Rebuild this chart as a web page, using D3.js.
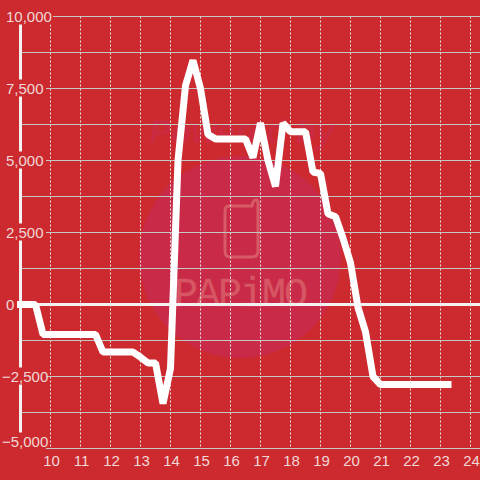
<!DOCTYPE html>
<html>
<head>
<meta charset="utf-8">
<script src="https://cdn.jsdelivr.net/npm/d3@7"></script>
<style>
html, body { margin: 0; padding: 0; background: #cc2a2e; }
svg { display: block; }
text { font-family: "Liberation Sans", Arial, sans-serif; }
</style>
</head>
<body>
<div id="chart"></div>
<script>
// quarter hours from 9:00 to 23:15
var hours = [9, 9.25, 9.5, 9.75, 10, 10.25, 10.5, 10.75, 11, 11.25, 11.5, 11.75,
	12, 12.25, 12.5, 12.75, 13, 13.25, 13.5, 13.75, 14, 14.25, 14.5, 14.75,
	15, 15.25, 15.5, 15.75, 16, 16.25, 16.5, 16.75, 17, 17.25, 17.5, 17.75,
	18, 18.25, 18.5, 18.75, 19, 19.25, 19.5, 19.75, 20, 20.25, 20.5, 20.75,
	21, 21.25, 21.5, 21.75, 22, 22.25, 22.5, 22.75, 23, 23.25];
var values = [0, 0, 0, -1040, -1040, -1040, -1040, -1040, -1040, -1040, -1040, -1650,
	-1650, -1650, -1650, -1650, -1830, -2030, -2030, -3440, -2220, 5000, 7600, 8480,
	7500, 5900, 5750, 5750, 5750, 5750, 5750, 5100, 6300, 5000, 4100, 6300,
	6000, 6000, 6000, 4600, 4550, 3150, 3050, 2300, 1450, -100, -950, -2500,
	-2780, -2780, -2780, -2780, -2780, -2780, -2780, -2780, -2780, -2780];
var xTicks = [10, 11, 12, 13, 14, 15, 16, 17, 18, 19, 20, 21, 22, 23, 24];
var yGrid = [10000, 8750, 7500, 6250, 5000, 3750, 2500, 1250, 0, -1250, -2500, -3750, -5000];
var yLabels = [10000, 7500, 5000, 2500, 0, -2500, -5000];

var w = 480, h = 480;
var x = d3.scaleLinear().domain([10, 24]).range([50.5, 470.5]);
var y = d3.scaleLinear().domain([10000, -5000]).range([16.5, 448.5]);

var svg = d3.select("#chart").append("svg")
.attr("width", w)
.attr("height", h);

svg.append("rect")
.attr("width", w)
.attr("height", h)
.attr("fill", "#cc2a2e");

// watermark
var mark = svg.append("g").attr("class", "watermark");

mark.append("text")
.attr("x", 242)
.attr("y", 143)
.attr("text-anchor", "middle")
.attr("font-size", 34)
.attr("textLength", 185)
.attr("lengthAdjust", "spacingAndGlyphs")
.attr("fill", "#cb2b40")
.style("font-weight", "bold")
.style("font-style", "italic")
.text("Powered by");

mark.append("circle")
.attr("cx", 240)
.attr("cy", 257)
.attr("r", 101)
.attr("fill", "#c92a47");

mark.append("path")
.attr("d", "M229 206 H252 Q253 200 256 200 Q258 200 258 204 V251 Q258 257 252 257 H230 Q225 257 225 251 V211 Q225 206 229 206 Z")
.attr("fill", "none")
.attr("stroke", "#d85a66")
.attr("stroke-width", 3);

mark.append("text")
.attr("x", 241)
.attr("y", 306)
.attr("text-anchor", "middle")
.attr("font-size", 40)
.attr("textLength", 134)
.attr("lengthAdjust", "spacing")
.attr("fill", "#d65664")
.attr("stroke", "#d65664")
.attr("stroke-width", 0.3)
.style("font-family", "'Liberation Mono', monospace")
.text("PAPiMO");

// vertical dotted grid
svg.append("g").selectAll("line")
.data(xTicks)
.enter()
.append("line")
.attr("x1", function(d) { return x(d); })
.attr("x2", function(d) { return x(d); })
.attr("y1", y(10000))
.attr("y2", y(-5000) - 2)
.attr("stroke", "#e6e6e6")
.attr("stroke-dasharray", "2,2");

// horizontal grid
svg.append("g").selectAll("line")
.data(yGrid)
.enter()
.append("line")
.attr("x1", 20)
.attr("x2", w)
.attr("y1", function(d) { return y(d); })
.attr("y2", function(d) { return y(d); })
.attr("stroke", "#c4c8c4")
.attr("stroke-width", 1);

// zero line and left axis
svg.append("line")
.attr("x1", 20)
.attr("x2", w)
.attr("y1", y(0))
.attr("y2", y(0))
.attr("stroke", "#f2f2f2")
.attr("stroke-width", 3);

svg.append("line")
.attr("x1", 20.5)
.attr("x2", 20.5)
.attr("y1", y(10000))
.attr("y2", y(-5000))
.attr("stroke", "#f2f2f2")
.attr("stroke-width", 3);

// y labels sit on a background coloured box, it cuts the lines behind them
// the bottom one is pushed up so it stays clear of the hour labels
function labelY(d) {
	return d == -5000 ? y(d) - 7 : y(d);
}

var yLabel = svg.append("g").selectAll("g")
.data(yLabels)
.enter()
.append("g");

yLabel.append("rect")
.attr("x", 0)
.attr("y", function(d) { return labelY(d) - 9; })
.attr("width", function(d) {
	if (d == 10000) return 53;
	if (d == 0) return 17;
	return 46;
})
.attr("height", function(d) { return d == -5000 ? 20 : 17; })
.attr("fill", "#cc2a2e");

yLabel.append("text")
.attr("x", function(d) { return d < 0 ? 2 : 6; })
.attr("y", function(d) { return labelY(d) + 5; })
.attr("font-size", 15)
.attr("fill", "#f0d8d8")
.text(function(d) { return d3.format(",")(d); });

// x labels
svg.append("g").selectAll("text")
.data(xTicks)
.enter()
.append("text")
.attr("x", function(d) { return x(d) + 1; })
.attr("y", 466)
.attr("text-anchor", "middle")
.attr("font-size", 15)
.attr("fill", "#f0d8d8")
.text(function(d) { return d; });

// the series
var line = d3.line()
.x(function(d, i) { return x(hours[i]); })
.y(function(d) { return y(d); });

svg.append("path")
.attr("d", line(values))
.attr("fill", "none")
.attr("stroke", "#ffffff")
.attr("stroke-width", 7)
.attr("stroke-linecap", "square")
.attr("stroke-linejoin", "bevel");
</script>
</body>
</html>
